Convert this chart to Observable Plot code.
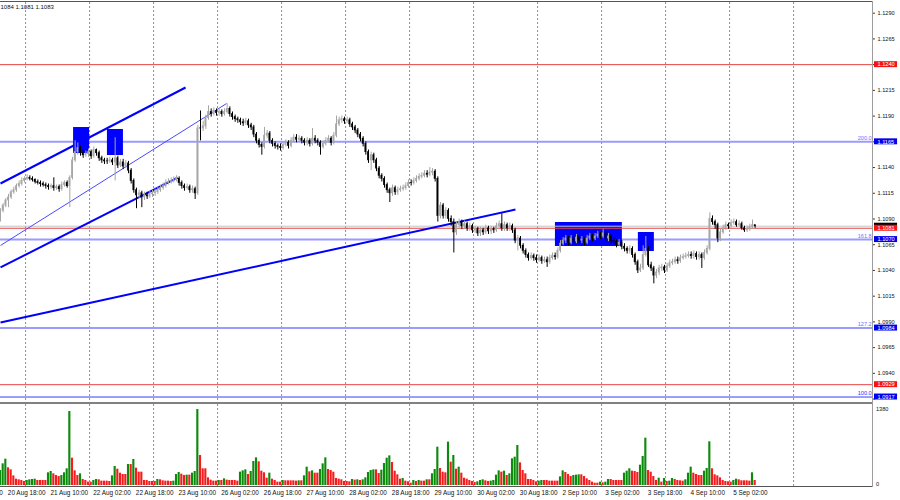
<!DOCTYPE html>
<html><head><meta charset="utf-8">
<script src="https://cdn.jsdelivr.net/npm/d3@7"></script>
<script src="https://cdn.jsdelivr.net/npm/@observablehq/plot@0.6"></script>
<style>
body{margin:0;background:#fff;}
#wrap{position:relative;width:900px;height:500px;overflow:hidden;background:#fff;font-family:"Liberation Sans",Arial,sans-serif;}
#main,#vol{position:absolute;left:0;}
#main{top:0px;}
#vol{top:400px;}
.ln{position:absolute;}
</style></head>
<body><div id="wrap"><div id="main"></div><div id="vol"></div>
<div class="ln" style="left:0;top:1px;width:872px;height:1px;background:#555"></div>
<div class="ln" style="left:0;top:402px;width:872px;height:2px;background:#808080"></div>
<div class="ln" style="left:0;top:486px;width:872px;height:1px;background:#555"></div>
<div class="ln" style="left:872px;top:1px;width:1px;height:486px;background:#9c9c9c"></div>
</div>
<script>
// ---- data (H1 EURUSD, bar index 0 = 20 Aug 16:00) ----
const firstOpen = 1.1090;
const closes = [
1.1098,1.1103,1.1108,1.1111,1.1116,1.1118,1.1122,1.1124,1.1127,1.1129,
1.1130,1.1129,1.1128,1.1126,1.1125,1.1124,1.1123,1.1122,1.1121,1.1122,
1.1120,1.1121,1.1119,1.1123,1.1125,1.1122,1.1130,1.1147,1.1155,1.1159,
1.1154,1.1152,1.1153,1.1155,1.1151,1.1157,1.1154,1.1149,1.1147,1.1146,
1.1146,1.1147,1.1145,1.1149,1.1142,1.1145,1.1141,1.1144,1.1137,1.1127,
1.1118,1.1113,1.1115,1.1111,1.1113,1.1112,1.1114,1.1115,1.1116,1.1118,
1.1120,1.1122,1.1125,1.1126,1.1127,1.1128,1.1129,1.1125,1.1122,1.1120,
1.1121,1.1118,1.1119,1.1115,1.1178,1.1178,1.1180,1.1188,1.1194,1.1192,
1.1195,1.1193,1.1194,1.1192,1.1194,1.1197,1.1192,1.1189,1.1187,1.1186,
1.1184,1.1183,1.1185,1.1181,1.1179,1.1172,1.1166,1.1162,1.1160,1.1171,
1.1173,1.1166,1.1163,1.1161,1.1160,1.1159,1.1162,1.1164,1.1161,1.1166,
1.1169,1.1167,1.1168,1.1166,1.1164,1.1166,1.1163,1.1168,1.1166,1.1164,
1.1160,1.1163,1.1166,1.1168,1.1164,1.1171,1.1182,1.1186,1.1187,1.1185,
1.1186,1.1182,1.1179,1.1176,1.1172,1.1168,1.1163,1.1155,1.1147,1.1152,
1.1147,1.1139,1.1132,1.1129,1.1123,1.1118,1.1115,1.1120,1.1116,1.1118,
1.1119,1.1120,1.1122,1.1125,1.1125,1.1127,1.1129,1.1131,1.1132,1.1134,
1.1133,1.1135,1.1136,1.1129,1.1093,1.1103,1.1093,1.1098,1.1090,1.1087,
1.1077,1.1084,1.1087,1.1083,1.1085,1.1081,1.1083,1.1079,1.1080,1.1076,
1.1079,1.1077,1.1081,1.1078,1.1080,1.1079,1.1083,1.1085,1.1081,1.1084,
1.1081,1.1083,1.1079,1.1069,1.1071,1.1064,1.1059,1.1055,1.1052,1.1054,
1.1052,1.1050,1.1052,1.1049,1.1050,1.1048,1.1052,1.1054,1.1053,1.1059,
1.1066,1.1069,1.1071,1.1067,1.1071,1.1068,1.1072,1.1069,1.1070,1.1067,
1.1071,1.1073,1.1071,1.1073,1.1075,1.1073,1.1076,1.1071,1.1073,1.1069,
1.1068,1.1065,1.1067,1.1063,1.1061,1.1059,1.1061,1.1055,1.1048,1.1040,
1.1042,1.1055,1.1061,1.1045,1.1042,1.1035,1.1038,1.1042,1.1043,1.1040,
1.1044,1.1047,1.1048,1.1050,1.1049,1.1052,1.1053,1.1054,1.1055,1.1054,
1.1056,1.1053,1.1055,1.1052,1.1057,1.1061,1.1090,1.1087,1.1084,1.1071,
1.1077,1.1081,1.1084,1.1083,1.1086,1.1087,1.1084,1.1085,1.1081,1.1079,
1.1080,1.1082,1.1084,1.1083];
const highs = [
1.1100,1.1105,1.1110,1.1114,1.1118,1.1121,1.1124,1.1127,1.1130,1.1131,
1.1133,1.1132,1.1131,1.1129,1.1128,1.1127,1.1126,1.1125,1.1124,1.1124,
1.1130,1.1123,1.1123,1.1126,1.1127,1.1127,1.1132,1.1150,1.1166,1.1164,
1.1161,1.1157,1.1156,1.1158,1.1157,1.1160,1.1158,1.1156,1.1151,1.1149,
1.1149,1.1150,1.1149,1.1169,1.1151,1.1148,1.1148,1.1147,1.1146,1.1139,
1.1129,1.1120,1.1118,1.1117,1.1116,1.1116,1.1117,1.1118,1.1119,1.1121,
1.1123,1.1125,1.1128,1.1129,1.1130,1.1131,1.1132,1.1131,1.1127,1.1124,
1.1124,1.1123,1.1122,1.1121,1.1181,1.1195,1.1185,1.1191,1.1200,1.1197,
1.1198,1.1197,1.1197,1.1196,1.1197,1.1202,1.1199,1.1194,1.1191,1.1189,
1.1188,1.1187,1.1188,1.1187,1.1183,1.1181,1.1174,1.1168,1.1164,1.1179,
1.1176,1.1175,1.1168,1.1165,1.1163,1.1163,1.1165,1.1167,1.1166,1.1169,
1.1172,1.1172,1.1171,1.1170,1.1168,1.1169,1.1168,1.1178,1.1171,1.1168,
1.1166,1.1166,1.1169,1.1171,1.1170,1.1174,1.1190,1.1189,1.1190,1.1189,
1.1189,1.1188,1.1184,1.1181,1.1178,1.1174,1.1170,1.1165,1.1157,1.1155,
1.1154,1.1149,1.1141,1.1134,1.1131,1.1125,1.1120,1.1123,1.1122,1.1121,
1.1122,1.1123,1.1125,1.1128,1.1128,1.1130,1.1132,1.1134,1.1135,1.1137,
1.1137,1.1140,1.1139,1.1138,1.1131,1.1106,1.1105,1.1101,1.1100,1.1093,
1.1090,1.1087,1.1090,1.1089,1.1088,1.1087,1.1086,1.1085,1.1083,1.1082,
1.1082,1.1081,1.1084,1.1083,1.1083,1.1082,1.1086,1.1088,1.1095,1.1087,
1.1086,1.1086,1.1085,1.1081,1.1074,1.1073,1.1066,1.1061,1.1057,1.1057,
1.1056,1.1055,1.1055,1.1054,1.1053,1.1053,1.1055,1.1057,1.1057,1.1062,
1.1069,1.1072,1.1074,1.1073,1.1074,1.1073,1.1075,1.1074,1.1073,1.1072,
1.1074,1.1076,1.1075,1.1076,1.1078,1.1077,1.1080,1.1078,1.1076,1.1075,
1.1072,1.1070,1.1070,1.1069,1.1066,1.1063,1.1064,1.1063,1.1057,1.1050,
1.1046,1.1064,1.1073,1.1063,1.1048,1.1044,1.1041,1.1045,1.1046,1.1045,
1.1047,1.1050,1.1051,1.1053,1.1053,1.1055,1.1056,1.1057,1.1058,1.1058,
1.1059,1.1058,1.1058,1.1057,1.1060,1.1064,1.1096,1.1093,1.1089,1.1086,
1.1080,1.1084,1.1087,1.1086,1.1089,1.1090,1.1089,1.1088,1.1087,1.1083,
1.1083,1.1085,1.1089,1.1084];
const lows = [
1.1087,1.1096,1.1101,1.1101,1.1109,1.1114,1.1116,1.1120,1.1122,1.1125,
1.1127,1.1127,1.1126,1.1124,1.1123,1.1121,1.1121,1.1119,1.1118,1.1119,
1.1117,1.1118,1.1116,1.1117,1.1121,1.1120,1.1101,1.1128,1.1145,1.1152,
1.1151,1.1149,1.1150,1.1150,1.1148,1.1149,1.1151,1.1146,1.1144,1.1143,
1.1143,1.1144,1.1142,1.1127,1.1139,1.1140,1.1138,1.1139,1.1134,1.1124,
1.1115,1.1100,1.1110,1.1101,1.1108,1.1109,1.1110,1.1111,1.1112,1.1114,
1.1116,1.1118,1.1120,1.1123,1.1124,1.1125,1.1126,1.1122,1.1119,1.1117,
1.1118,1.1115,1.1115,1.1109,1.1113,1.1166,1.1175,1.1177,1.1186,1.1189,
1.1190,1.1190,1.1190,1.1189,1.1190,1.1192,1.1189,1.1186,1.1184,1.1183,
1.1181,1.1180,1.1181,1.1178,1.1176,1.1169,1.1163,1.1159,1.1152,1.1158,
1.1168,1.1163,1.1160,1.1158,1.1157,1.1156,1.1157,1.1160,1.1158,1.1159,
1.1164,1.1164,1.1165,1.1163,1.1161,1.1161,1.1160,1.1161,1.1163,1.1161,
1.1152,1.1158,1.1161,1.1164,1.1161,1.1162,1.1169,1.1180,1.1183,1.1182,
1.1183,1.1179,1.1176,1.1173,1.1169,1.1165,1.1160,1.1152,1.1144,1.1137,
1.1144,1.1136,1.1129,1.1126,1.1120,1.1115,1.1106,1.1112,1.1113,1.1113,
1.1116,1.1117,1.1118,1.1120,1.1122,1.1123,1.1125,1.1127,1.1129,1.1130,
1.1130,1.1131,1.1132,1.1126,1.1087,1.1090,1.1090,1.1090,1.1087,1.1083,
1.1057,1.1074,1.1081,1.1080,1.1080,1.1078,1.1078,1.1076,1.1076,1.1073,
1.1073,1.1074,1.1075,1.1075,1.1075,1.1076,1.1077,1.1081,1.1078,1.1078,
1.1078,1.1078,1.1076,1.1066,1.1059,1.1061,1.1056,1.1052,1.1049,1.1050,
1.1049,1.1047,1.1048,1.1046,1.1047,1.1043,1.1046,1.1050,1.1050,1.1051,
1.1057,1.1064,1.1066,1.1064,1.1065,1.1065,1.1066,1.1066,1.1066,1.1064,
1.1065,1.1069,1.1068,1.1069,1.1071,1.1070,1.1071,1.1068,1.1068,1.1066,
1.1065,1.1062,1.1063,1.1060,1.1058,1.1056,1.1056,1.1052,1.1045,1.1037,
1.1038,1.1040,1.1053,1.1043,1.1039,1.1027,1.1032,1.1035,1.1039,1.1037,
1.1038,1.1042,1.1045,1.1046,1.1046,1.1047,1.1050,1.1051,1.1052,1.1051,
1.1051,1.1050,1.1050,1.1042,1.1050,1.1055,1.1059,1.1084,1.1080,1.1067,
1.1068,1.1075,1.1079,1.1080,1.1081,1.1084,1.1082,1.1082,1.1079,1.1077,
1.1077,1.1078,1.1080,1.1081];
const volumes = [
272,393,478,321,284,175,115,103,91,73,
91,103,109,115,91,91,91,91,230,254,
212,182,163,182,230,303,1343,496,266,182,
212,109,91,61,61,91,109,103,79,79,
79,73,175,345,296,224,200,200,381,381,
472,315,242,242,91,91,73,73,73,109,
103,85,79,79,73,79,200,236,206,182,
188,188,224,254,1379,545,303,303,139,97,
79,79,91,91,121,97,91,91,91,79,
242,266,284,200,254,436,502,430,260,230,
133,224,115,91,61,61,91,85,85,85,
85,79,85,85,175,333,248,266,224,224,
290,393,502,290,272,242,127,115,103,73,
73,67,109,97,103,91,103,139,236,272,
284,284,218,278,399,496,538,417,260,194,
115,127,79,67,42,91,73,91,79,79,
103,103,212,290,696,309,242,230,787,424,
545,296,333,224,133,115,91,73,54,67,
91,103,85,73,79,91,188,266,242,260,
182,212,484,514,726,411,272,212,109,109,
91,67,79,91,91,91,79,79,79,79,
157,266,236,200,163,182,188,194,194,163,
121,91,61,42,42,61,48,61,109,109,
91,91,91,91,224,260,303,260,254,236,
369,526,859,272,242,163,91,133,61,127,
73,79,127,109,91,85,79,103,224,333,
224,200,182,182,260,309,793,303,194,175,
139,91,73,67,61,91,115,103,85,85,
85,79,230,91];
const timeTicks = [
 {i:-14,label:"20 Aug 02:00"},{i:2,label:"20 Aug 18:00"},{i:18,label:"21 Aug 10:00"},
 {i:34,label:"22 Aug 02:00"},{i:50,label:"22 Aug 18:00"},{i:66,label:"23 Aug 10:00"},
 {i:82,label:"26 Aug 02:00"},{i:98,label:"26 Aug 18:00"},{i:114,label:"27 Aug 10:00"},
 {i:130,label:"28 Aug 02:00"},{i:146,label:"28 Aug 18:00"},{i:162,label:"29 Aug 10:00"},
 {i:178,label:"30 Aug 02:00"},{i:194,label:"30 Aug 18:00"},{i:210,label:"2 Sep 10:00"},
 {i:226,label:"3 Sep 02:00"},{i:242,label:"3 Sep 18:00"},{i:258,label:"4 Sep 10:00"},
 {i:274,label:"5 Sep 02:00"}];
const gridIdx = [9.4,33.4,57.4,81.4,105.4,129.4,153.4,177.4,201.4,225.4,249.4,273.4,297.4];
const priceTicks = [1.1290,1.1265,1.1240,1.1215,1.1190,1.1165,1.1140,1.1115,1.1090,1.1065,1.1040,1.1015,1.0990,1.0965,1.0940,1.0915];
const volTicks = [1380, 0];
const levelLines = [
 {y:1.1240,color:"#e84444",w:1},
 {y:1.1165,color:"#9a9aff",w:2},
 {y:1.1070,color:"#9a9aff",w:2},
 {y:1.0984,color:"#9a9aff",w:2},
 {y:1.0929,color:"#e84444",w:1},
 {y:1.0917,color:"#3a3aff",w:1}];
const priceLines = [
 {y:1.1083,color:"#c4c4c4",w:1},
 {y:1.1081,color:"#e84444",w:1}];
const fibLabels = [
 {y:1.1165,text:"200.0",color:"#7070ff"},
 {y:1.1070,text:"161.8",color:"#7070ff"},
 {y:1.0984,text:"127.2",color:"#7070ff"},
 {y:1.0917,text:"100.0",color:"#3030ff"}];
const priceLabels = [
 {y:1.1240,text:"1.1240",bg:"#f41414"},
 {y:1.1165,text:"1.1165",bg:"#0000ee"},
 {y:1.1083,text:"",bg:"#000000"},
 {y:1.1081,text:"1.1081",bg:"#f41414"},
 {y:1.1070,text:"1.1070",bg:"#0000ee"},
 {y:1.0984,text:"1.0984",bg:"#0000ee"},
 {y:1.0929,text:"1.0929",bg:"#f41414"},
 {y:1.0917,text:"1.0917",bg:"#0000ee"}];
const trendLines = [
 {x1:0,y1:1.11245,x2:69.4,y2:1.12178,color:"#0000ff",w:2},
 {x1:0,y1:1.10429,x2:66.4,y2:1.11303,color:"#0000ff",w:2},
 {x1:0,y1:1.10643,x2:84.75,y2:1.12022,color:"#4848ff",w:1},
 {x1:0,y1:1.09894,x2:193.1,y2:1.10992,color:"#0000ff",w:2}];
const zones = [
 {x1:27.4,x2:33.4,y1:1.11537,y2:1.11789},
 {x1:40.1,x2:46.1,y1:1.11517,y2:1.11770},
 {x1:208.1,x2:233.2,y1:1.10633,y2:1.10866},
 {x1:239.2,x2:245.2,y1:1.10584,y2:1.10769}];
const headerText = ["1084 1.1081 1.1083"];

// ---- build ----
const FONT = '"Liberation Sans", Arial, sans-serif';
const UP = "#a6a6a6", DOWN = "#000000";
const bars = closes.map((c, i) => ({i, o: i ? closes[i-1] : firstOpen, c, h: highs[i], l: lows[i]}));
const volBars = volumes.map((v, i) => ({i, v, color: (i > 0 && v > volumes[i-1]) || i === 0 ? "#0b8a0b" : "#f41c1c"}));
const XMAX = 327;
const boxH = 0.00029;
// tick labels hidden under a coloured price label are not drawn
const covered = priceLabels.filter(d => d.text).map(d => d.y);
const shownTicks = priceTicks.filter(t => !covered.some(y => Math.abs(y - t) < 0.00025));

const main = Plot.plot({
  width: 900, height: 400,
  marginLeft: 0, marginRight: 28, marginTop: 2, marginBottom: 0,
  x: {domain: [0, XMAX], axis: null},
  y: {domain: [1.091362, 1.130040], axis: null},
  color: {type: "identity"},
  style: {fontFamily: FONT, fontSize: "5.6px", background: "transparent", overflow: "visible"},
  marks: [
    Plot.ruleX(gridIdx, {stroke: "#8c8c8c", strokeDasharray: "2,2", strokeWidth: 1}),
    Plot.ruleY(levelLines, {y: "y", x1: 0, x2: XMAX, stroke: d => d.color, strokeWidth: d => d.w}),
    Plot.rect(zones, {x1: "x1", x2: "x2", y1: "y1", y2: "y2", fill: "#0000ff"}),
    Plot.ruleY(priceLines, {y: "y", x1: 0, x2: XMAX, stroke: d => d.color, strokeWidth: d => d.w}),
    Plot.link(trendLines, {x1: "x1", y1: "y1", x2: "x2", y2: "y2", stroke: d => d.color, strokeWidth: d => d.w}),
    Plot.ruleX(bars, {x: "i", y1: "l", y2: "h", stroke: d => d.c > d.o ? UP : DOWN, strokeWidth: 1}),
    Plot.rect(bars, {x1: d => d.i - 0.33, x2: d => d.i + 0.33, y1: "o", y2: "c",
      fill: d => d.c > d.o ? UP : DOWN, insetTop: -0.4, insetBottom: -0.4}),
    Plot.text(fibLabels, {x: XMAX, y: "y", text: "text", dx: -0.8, dy: -3.4, textAnchor: "end",
      fill: d => d.color, fontSize: 5.6}),
    Plot.ruleY(priceTicks, {y: d => d, x1: XMAX, x2: XMAX + 1.1, stroke: "#333", strokeWidth: 1}),
    Plot.text(shownTicks, {x: XMAX, y: d => d, text: d => d3.format(".4f")(d), dx: 5, textAnchor: "start",
      fill: "#111", fontSize: 5.6}),
    Plot.rect(priceLabels, {x1: XMAX + 0.75, x2: XMAX + 9.4, y1: d => d.y - boxH, y2: d => d.y + boxH, fill: d => d.bg}),
    Plot.text(priceLabels, {x: XMAX, y: "y", text: "text", dx: 5, textAnchor: "start", fill: "#ffffff", fontSize: 5.6}),
    Plot.text(headerText, {frameAnchor: "top-left", text: d => d, dx: 0, dy: 4.8, textAnchor: "start",
      lineAnchor: "middle", fill: "#111", fontSize: 6})
  ]
});
document.getElementById("main").appendChild(main);

const vol = Plot.plot({
  width: 900, height: 100,
  marginLeft: 0, marginRight: 28, marginTop: 9, marginBottom: 15,
  x: {domain: [0, XMAX], axis: null},
  y: {domain: [0, 1380], axis: null},
  color: {type: "identity"},
  style: {fontFamily: FONT, fontSize: "6px", background: "transparent", overflow: "visible"},
  marks: [
    Plot.ruleX(gridIdx, {stroke: "#8c8c8c", strokeDasharray: "2,2", strokeWidth: 1, insetTop: -5, insetBottom: -1}),
    Plot.rect(volBars, {x1: d => d.i - 0.4, x2: d => d.i + 0.4, y1: 0, y2: "v", fill: d => d.color}),
    Plot.text(timeTicks, {x: "i", text: "label", frameAnchor: "bottom", dx: 2, dy: 7, textAnchor: "start",
      lineAnchor: "middle", fill: "#111", fontSize: 6.4}),
    Plot.text(volTicks.filter(v => v > 0), {x: XMAX, y: d => d, text: d => String(d), dx: 3.5, textAnchor: "start",
      fill: "#111", fontSize: 5.6}),
    Plot.text(volTicks.filter(v => v === 0), {x: XMAX, y: d => d, text: d => String(d), dx: 3.5, textAnchor: "start",
      lineAnchor: "bottom", fill: "#111", fontSize: 5.6})
  ]
});
document.getElementById("vol").appendChild(vol);
</script>
</body></html>
